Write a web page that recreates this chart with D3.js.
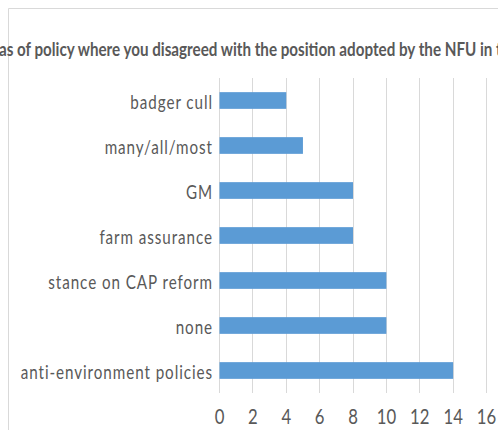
<!DOCTYPE html>
<html>
<head>
<meta charset="utf-8">
<script src="https://cdn.jsdelivr.net/npm/d3@7"></script>
<style>
  html, body { margin: 0; padding: 0; background: #fff; }
  svg { display: block; }
  text { font-family: Lato, "Open Sans", sans-serif; fill: #595959; }
</style>
</head>
<body>
<svg id="chart" width="498" height="433"></svg>
<script>
const titleText = "Areas of policy where you disagreed with the position adopted by the NFU in the";
const categories = ["badger cull", "many/all/most", "GM", "farm assurance", "stance on CAP reform", "none", "anti-environment policies"];
const values = [4, 5, 8, 8, 10, 10, 14];
const xTicks = [0, 2, 4, 6, 8, 10, 12, 14, 16];

const svg = d3.select("#chart");
const plot = { left: 219, right: 486, top: 78, bottom: 393 };
const gridColor = "#d9d9d9";
const barColor = "#5b9bd5";

// chart area border (top & left visible)
svg.append("path")
  .attr("d", "M8.5,430 L8.5,8.5 L498,8.5")
  .attr("fill", "none")
  .attr("stroke", gridColor)
  .attr("stroke-width", 1);

const x = d3.scaleLinear().domain([0, 16]).range([plot.left, plot.right]);
const y = d3.scaleBand().domain(categories).range([plot.top, plot.bottom])
  .paddingInner(0.629).paddingOuter(0.3145);

// gridlines
svg.append("g").selectAll("line").data(xTicks).join("line")
  .attr("x1", d => Math.round(x(d)) + 0.5)
  .attr("x2", d => Math.round(x(d)) + 0.5)
  .attr("y1", plot.top)
  .attr("y2", plot.bottom)
  .attr("stroke", gridColor)
  .attr("stroke-width", 1);

// bars
svg.append("g").selectAll("rect").data(categories).join("rect")
  .attr("x", x(0) + 0.5)
  .attr("y", d => y(d))
  .attr("width", (d, i) => x(values[i]) - x(0))
  .attr("height", y.bandwidth())
  .attr("fill", barColor);

// bottom axis
const gx = svg.append("g").attr("transform", `translate(0,${plot.bottom})`)
  .call(d3.axisBottom(x).tickValues(xTicks).tickSize(0));
gx.select(".domain").remove();
gx.selectAll("text")
  .attr("y", 31).attr("dy", null)
  .attr("font-size", 22)
  .attr("transform", "scale(0.76,1)")
  .style("font-family", "Lato, sans-serif")
  .attr("fill", "#595959");

// left axis
const sx = 0.78;
const gy = svg.append("g").attr("transform", `translate(${plot.left},0)`)
  .call(d3.axisLeft(y).tickSize(0));
gy.select(".domain").remove();
gy.selectAll("text")
  .attr("x", -6 / sx)
  .attr("dy", null)
  .attr("y", 8.3)
  .attr("font-size", 19.5)
  .attr("letter-spacing", 1.2)
  .attr("transform", `scale(${sx},1)`)
  .style("font-family", "Lato, sans-serif")
  .attr("fill", "#595959");

// title (wider than the chart, clipped at both sides)
const measure = s => {
  const t = svg.append("text").attr("font-size", 19).attr("font-weight", 700).text(s);
  const w = t.node().getComputedTextLength();
  t.remove();
  return w;
};
const prefix = titleText.slice(0, 3);
const segment = titleText.slice(3, titleText.indexOf(" in ") + 3);
const wPrefix = measure(prefix);
const wSeg = measure(segment);
const ts = 494 / wSeg;
svg.append("text")
  .attr("font-size", 19)
  .attr("font-weight", 700)
  .attr("transform", `translate(${-1 - wPrefix * ts},56) scale(${ts},1)`)
  .text(titleText);
</script>
</body>
</html>
